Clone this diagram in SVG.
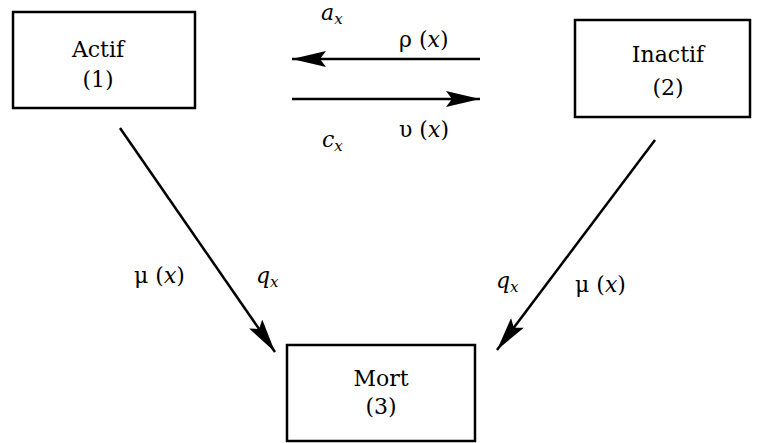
<svg xmlns="http://www.w3.org/2000/svg" width="757" height="443" viewBox="0 0 757 443">
<style>
.box{fill:#fff;stroke:#000;stroke-width:2.5}
text{font-family:"DejaVu Serif","Liberation Serif","Times New Roman",serif;fill:#000}
.t{font-size:22px;text-anchor:middle}
.l{font-size:22px}
.i{font-style:italic}
.s{font-size:15px}
.c{stroke:#000;stroke-width:2.5;fill:none}
</style>
<defs>
<marker id="ah" markerWidth="34" markerHeight="16" refX="34" refY="8" orient="auto" markerUnits="userSpaceOnUse">
<path d="M0,0 L34,8 L0,16 L6,8 Z" fill="#000"/>
</marker>
</defs>
<rect width="757" height="443" fill="#fff"/>
<g id="n1">
<rect class="box" x="13" y="12" width="182" height="96"/>
<text class="t" x="98" y="57">Actif</text>
<text class="t" x="98" y="87">(1)</text>
</g>
<g id="n2">
<rect class="box" x="575" y="20" width="175" height="97"/>
<text class="t" x="668" y="62">Inactif</text>
<text class="t" x="668" y="95">(2)</text>
</g>
<g id="n3">
<rect class="box" x="287" y="345" width="188" height="96"/>
<text class="t" x="381" y="386">Mort</text>
<text class="t" x="381" y="414">(3)</text>
</g>
<g id="connectors">
<line class="c" x1="480" y1="59" x2="292" y2="59" marker-end="url(#ah)"/>
<line class="c" x1="292" y1="99" x2="480" y2="99" marker-end="url(#ah)"/>
<line class="c" x1="120" y1="128" x2="275" y2="352" marker-end="url(#ah)"/>
<line class="c" x1="655" y1="140" x2="497" y2="350" marker-end="url(#ah)"/>
</g>
<g id="labels">
<text class="l i" x="321" y="20">a<tspan class="s" dy="4">x</tspan></text>
<text class="l" x="399" y="47">ρ (<tspan class="i">x</tspan>)</text>
<text class="l" x="399" y="137">υ (<tspan class="i">x</tspan>)</text>
<text class="l i" x="322" y="147">c<tspan class="s" dy="4">x</tspan></text>
<text class="l" x="134" y="283">μ (<tspan class="i">x</tspan>)</text>
<text class="l i" x="256" y="283">q<tspan class="s" dy="4">x</tspan></text>
<text class="l i" x="496" y="288">q<tspan class="s" dy="4">x</tspan></text>
<text class="l" x="575" y="292">μ (<tspan class="i">x</tspan>)</text>
</g>
</svg>
